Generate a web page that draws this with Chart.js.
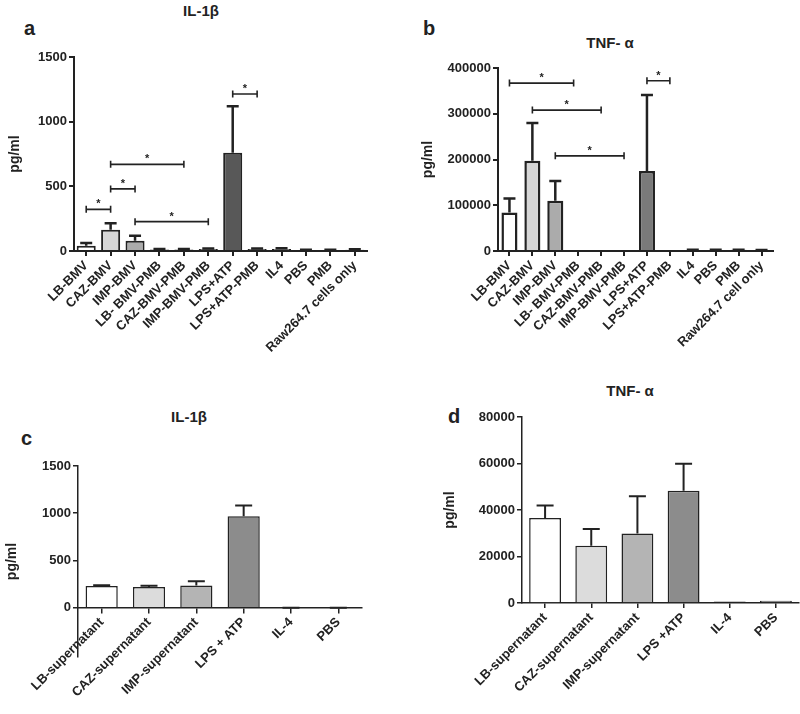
<!DOCTYPE html>
<html>
<head>
<meta charset="utf-8">
<script src="https://cdn.jsdelivr.net/npm/chart.js@4.4.1/dist/chart.umd.min.js"></script>
<style>
  body { margin: 0; background: #fff; }
  #page { position: relative; width: 800px; height: 714px; font-family: "Liberation Sans", Arial, sans-serif; color: #222; }
  .box { position: absolute; }
  .letter { position: absolute; font-size: 20px; font-weight: bold; line-height: 1; }
  .title { position: absolute; font-size: 15px; font-weight: bold; line-height: 1; width: 120px; margin-left: -60px; text-align: center; }
</style>
</head>
<body>
<div id="page">
  <div class="letter" style="left:24px;top:18px">a</div>
  <div class="title" style="left:201px;top:3px">IL-1β</div>
  <div class="letter" style="left:423px;top:18px">b</div>
  <div class="title" style="left:610px;top:35px">TNF- α</div>
  <div class="letter" style="left:21px;top:428px">c</div>
  <div class="title" style="left:189px;top:409px">IL-1β</div>
  <div class="letter" style="left:448px;top:406px">d</div>
  <div class="title" style="left:630px;top:383px">TNF- α</div>

  <div class="box" style="left:0;top:0"><canvas id="chartA" width="400" height="360"></canvas></div>
  <div class="box" style="left:400px;top:0"><canvas id="chartB" width="400" height="360"></canvas></div>
  <div class="box" style="left:0;top:400px"><canvas id="chartC" width="400" height="314"></canvas></div>
  <div class="box" style="left:400px;top:400px"><canvas id="chartD" width="400" height="314"></canvas></div>
</div>
<script>
// panel a - IL-1β, BMV stimulation
const aLabels = ['LB-BMV', 'CAZ-BMV', 'IMP-BMV', 'LB- BMV-PMB', 'CAZ-BMV-PMB', 'IMP-BMV-PMB',
  'LPS+ATP', 'LPS+ATP-PMB', 'IL4', 'PBS', 'PMB', 'Raw264.7 cells only'];
const aMean = [40, 165, 80, 12, 12, 15, 760, 15, 15, 6, 6, 10];
const aErr = [62, 215, 117, 16, 16, 20, 1120, 19, 22, 9, 9, 13];
const aTicks = [0, 500, 1000, 1500];
const aSig = [[0, 1, 322], [1, 2, 480], [1, 4, 670], [2, 5, 227], [6, 7, 1214]];

// panel b - TNF-α, BMV stimulation
const bLabels = ['LB-BMV', 'CAZ-BMV', 'IMP-BMV', 'LB- BMV-PMB', 'CAZ-BMV-PMB', 'IMP-BMV-PMB',
  'LPS+ATP', 'LPS+ATP-PMB', 'IL4', 'PBS', 'PMB', 'Raw264.7 cell only'];
const bMean = [84000, 197000, 110000, 0, 0, 0, 175000, 0, 2000, 2000, 2500, 1500];
const bErr = [115000, 280000, 153000, 0, 0, 0, 341000, 0, 2500, 2500, 3000, 2000];
const bTicks = [0, 100000, 200000, 300000, 400000];
const bSig = [[0, 2.8, 367000], [1, 4, 308000], [2, 5, 208000], [6, 7, 372000]];

// panel c - IL-1β, supernatants
const cLabels = ['LB-supernatant', 'CAZ-supernatant', 'IMP-supernatant', 'LPS + ATP', 'IL-4', 'PBS'];
const cMean = [230, 218, 235, 968, -8, -8];
const cErr = [238, 232, 281, 1082, 0, 0];
const cTicks = [0, 500, 1000, 1500];

// panel d - TNF-α, supernatants
const dLabels = ['LB-supernatant', 'CAZ-supernatant', 'IMP-supernatant', 'LPS +ATP', 'IL-4', 'PBS'];
const dMean = [36600, 24600, 29900, 48300, 600, 1000];
const dErr = [41900, 31800, 45900, 59900, 0, 0];
const dTicks = [0, 20000, 40000, 60000, 80000];

Chart.defaults.font.family = '"Liberation Sans", Arial, sans-serif';
Chart.defaults.color = '#222';

// error bars (upper only) and significance brackets
function extras(mean, err, sig, cap, lw) {
  return {
    id: 'extras',
    afterDatasetsDraw(chart) {
      const { ctx } = chart;
      const x = chart.scales.x, y = chart.scales.y;
      ctx.save();
      ctx.strokeStyle = '#222';
      ctx.lineWidth = lw;
      err.forEach((e, i) => {
        if (e <= mean[i]) return;
        const px = x.getPixelForValue(i);
        const y0 = y.getPixelForValue(mean[i]);
        const y1 = y.getPixelForValue(e);
        ctx.beginPath();
        ctx.moveTo(px, y0);
        ctx.lineTo(px, y1);
        ctx.moveTo(px - cap / 2, y1);
        ctx.lineTo(px + cap / 2, y1);
        ctx.stroke();
      });
      ctx.lineWidth = 1.6;
      ctx.fillStyle = '#222';
      ctx.font = 'bold 11px "Liberation Sans", Arial, sans-serif';
      ctx.textAlign = 'center';
      ctx.textBaseline = 'alphabetic';
      sig.forEach(([from, to, h]) => {
        const x1 = x.getPixelForValue(from);
        const x2 = x.getPixelForValue(to);
        const py = y.getPixelForValue(h);
        ctx.beginPath();
        ctx.moveTo(x1, py);
        ctx.lineTo(x2, py);
        ctx.moveTo(x1, py - 3.5);
        ctx.lineTo(x1, py + 3.5);
        ctx.moveTo(x2, py - 3.5);
        ctx.lineTo(x2, py + 3.5);
        ctx.stroke();
        ctx.fillText('*', (x1 + x2) / 2, py - 2);
      });
      ctx.restore();
    }
  };
}

function makeChart(id, labels, mean, err, ticks, sig, colors, o) {
  const axisColor = '#222';
  new Chart(document.getElementById(id), {
    type: 'bar',
    data: {
      labels: labels,
      datasets: [{
        data: mean,
        backgroundColor: colors,
        borderColor: '#222',
        borderWidth: o.bw,
        barPercentage: o.bar,
        categoryPercentage: 1
      }]
    },
    options: {
      responsive: false,
      animation: false,
      layout: { padding: o.pad },
      plugins: { legend: { display: false }, tooltip: { enabled: false } },
      scales: {
        x: {
          position: o.atZero ? { y: 0 } : 'bottom',
          grid: { offset: false, drawOnChartArea: false, tickLength: 5, color: axisColor, lineWidth: o.axisW },
          border: { color: axisColor, width: o.axisW },
          ticks: { autoSkip: false, minRotation: 45, maxRotation: 45, padding: 2, font: { size: 13, weight: 'bold' } },
          afterFit: s => { if (!o.atZero) s.height = o.xH; }
        },
        y: {
          min: o.min,
          max: o.max,
          grid: { drawOnChartArea: false, tickLength: 5, color: axisColor, lineWidth: o.axisW },
          border: { color: axisColor, width: o.axisW },
          ticks: { padding: 2, font: { size: 13, weight: 'bold' }, callback: v => String(v) },
          afterBuildTicks: s => { s.ticks = ticks.map(v => ({ value: v })); },
          afterFit: s => { s.width = o.yW; },
          title: { display: true, text: 'pg/ml', font: { size: 14, weight: 'bold' }, padding: { top: o.tPad, bottom: 0 } }
        }
      }
    },
    plugins: [extras(mean, err, sig, o.cap, o.errW)]
  });
}

makeChart('chartA', aLabels, aMean, aErr, aTicks, aSig,
  ['#ffffff', '#d6d6d6', '#ababab', '#777', '#777', '#777', '#585858', '#777', '#777', '#777', '#777', '#777'],
  { pad: { top: 57, right: 33, left: 0, bottom: 0 }, yW: 74, xH: 109, min: 0, max: 1500, bar: 0.78, bw: 2, axisW: 2, cap: 12, errW: 2.5, tPad: 6.6 });

makeChart('chartB', bLabels, bMean, bErr, bTicks, bSig,
  ['#ffffff', '#d6d6d6', '#ababab', '#999', '#999', '#999', '#7a7a7a', '#999', '#999', '#999', '#999', '#999'],
  { pad: { top: 68, right: 27, left: 0, bottom: 0 }, yW: 98, xH: 109, min: 0, max: 400000, bar: 0.7, bw: 2.5, axisW: 2, cap: 12, errW: 2.5, tPad: 19.6 });

makeChart('chartC', cLabels, cMean, cErr, cTicks, [],
  ['#ffffff', '#dcdcdc', '#b4b4b4', '#8c8c8c', '#555', '#888'],
  { pad: { top: 66, right: 38, left: 0, bottom: 57 }, yW: 78, xH: 0, min: -522, max: 1500, atZero: true, bar: 0.68, bw: 1.5, axisW: 1.5, cap: 17, errW: 2, tPad: 4 });

makeChart('chartD', dLabels, dMean, dErr, dTicks, [],
  ['#ffffff', '#dcdcdc', '#b4b4b4', '#8c8c8c', '#333', '#888'],
  { pad: { top: 17, right: 1, left: 0, bottom: 0 }, yW: 122, xH: 111, min: 0, max: 80000, bar: 0.69, bw: 1.5, axisW: 1.5, cap: 17, errW: 2, tPad: 41.6 });
</script>
</body>
</html>
